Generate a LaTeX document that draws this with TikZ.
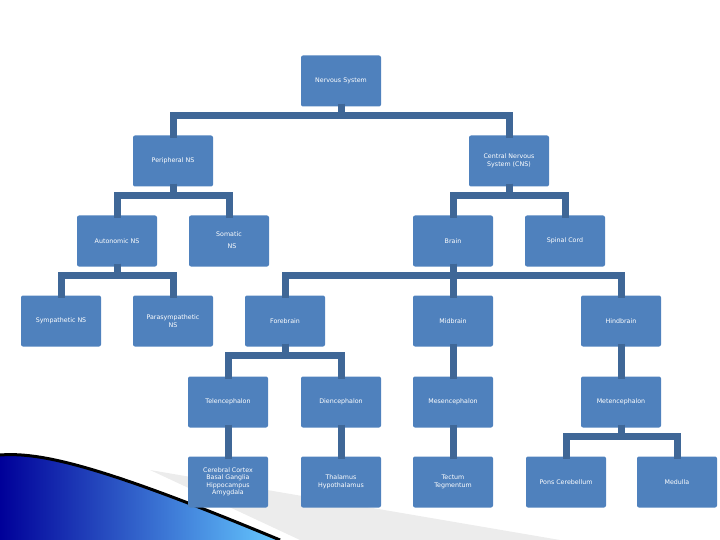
\documentclass[tikz,border=0pt]{standalone}
\usepackage{fontspec}
\setmainfont{DejaVu Sans}
\begin{document}
\begin{tikzpicture}[x=1pt,y=-1pt,
  box/.style={fill=boxc,draw=none,rounded corners=2pt,minimum width=80pt,minimum height=51pt,
    text=white,font=\fontsize{6.3}{7.5}\selectfont,align=center,inner sep=1pt},
  con/.style={draw=linec,line width=7pt}]
\definecolor{boxc}{HTML}{4F81BD}
\definecolor{linec}{HTML}{3F6797}
\useasboundingbox (0,0) rectangle (720,540);
% decoration
\fill[gray!15] (150,470) -- (560,540) -- (300,540) -- cycle;
\shade[left color=blue!60!black, right color=blue!35!cyan!60!white] (0,455) .. controls (40,452) and (100,465) .. (280,540) -- (0,540) -- cycle;
\draw[black,line width=3pt] (0,455) .. controls (40,452) and (100,465) .. (280,540);
% nodes
\node[box] (ns) at (341,81) {Nervous System};
\node[box] (pns) at (173,161) {Peripheral NS};
\node[box] (cns) at (509,161) {Central Nervous\\System (CNS)};
\node[box] (aut) at (117,241) {Autonomic NS};
\node[box] (som) at (229,241) {\begin{tabular}{@{}l@{}}Somatic\\[4pt]\hspace{1.8em}NS\end{tabular}};
\node[box] (brain) at (453,241) {Brain};
\node[box] (spinal) at (565,241) {Spinal Cord};
\node[box] (sym) at (61,321) {Sympathetic NS};
\node[box] (para) at (173,321) {Parasympathetic\\NS};
\node[box] (fore) at (285,321) {Forebrain};
\node[box] (mid) at (453,321) {Midbrain};
\node[box] (hind) at (621,321) {Hindbrain};
\node[box] (tel) at (228,402) {Telencephalon};
\node[box] (die) at (341,402) {Diencephalon};
\node[box] (mes) at (453,402) {Mesencephalon};
\node[box] (met) at (621,402) {Metencephalon};
\node[box] (cer) at (228,482) {Cerebral Cortex\\Basal Ganglia\\Hippocampus\\Amygdala};
\node[box] (tha) at (341,482) {Thalamus\\Hypothalamus};
\node[box] (tec) at (453,482) {Tectum\\Tegmentum};
\node[box] (pons) at (566,482) {Pons Cerebellum};
\node[box] (med) at (677,482) {Medulla};
% connectors
\foreach \p/\c in {ns/pns,ns/cns,pns/aut,pns/som,cns/brain,cns/spinal,aut/sym,aut/para,
  brain/fore,brain/mid,brain/hind,fore/tel,fore/die,mid/mes,hind/met,tel/cer,die/tha,mes/tec,met/pons,met/med}
  \draw[con] ([yshift=3pt]\p.south) -- ++(0,12) -| ([yshift=-3pt]\c.north);
\end{tikzpicture}
\end{document}
